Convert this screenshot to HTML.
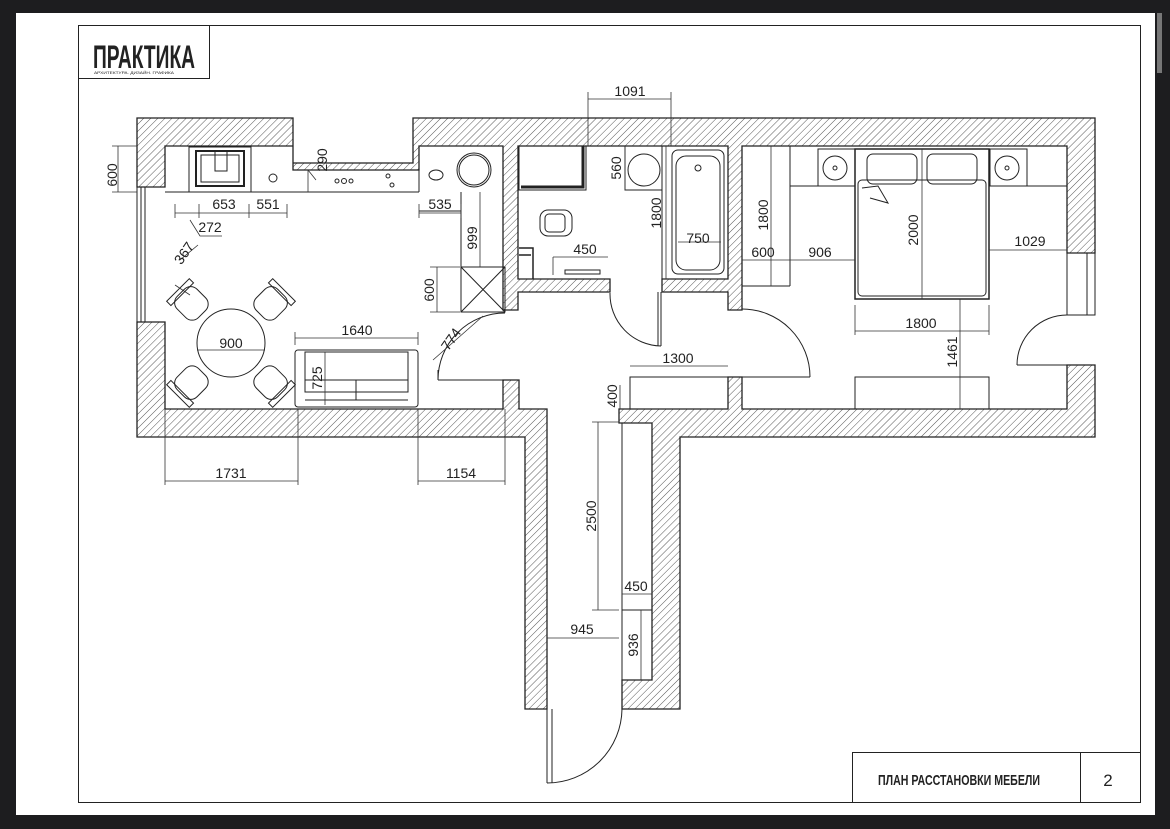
<!DOCTYPE html>
<html><head><meta charset="utf-8"><style>
html,body{margin:0;padding:0;background:#1d1d1f;width:1170px;height:829px;overflow:hidden}
svg{display:block}
text{font-family:"Liberation Sans Narrow","Liberation Sans",sans-serif;fill:#222}
</style></head><body>
<svg width="1170" height="829" viewBox="0 0 1170 829" xmlns="http://www.w3.org/2000/svg">
<defs>
<pattern id="h" patternUnits="userSpaceOnUse" width="5" height="5" patternTransform="rotate(45)">
<rect width="5" height="5" fill="#fff"/><line x1="0" y1="0" x2="0" y2="5" stroke="#444" stroke-width="0.9"/>
</pattern>
</defs>
<rect x="0" y="0" width="1170" height="829" fill="#1d1d1f"/>
<rect x="16" y="13" width="1139" height="802" fill="#fff"/>
<rect x="1157" y="13" width="5" height="60" fill="#777"/>
<rect x="78.5" y="25.5" width="1062" height="777" fill="none" stroke="#222" stroke-width="1"/>
<!-- logo -->
<rect x="78.5" y="25.5" width="131" height="53" fill="#fff" stroke="#222" stroke-width="1"/>
<text x="93" y="68" font-size="32" font-weight="bold" textLength="102" lengthAdjust="spacingAndGlyphs">ПРАКТИКА</text>
<text x="94" y="74" font-size="4" textLength="80" lengthAdjust="spacingAndGlyphs">АРХИТЕКТУРА. ДИЗАЙН. ГРАФИКА</text>

<g stroke="#222" stroke-width="1.3" fill="url(#h)" stroke-linejoin="miter">
<path d="M137,118H293V163H413V118H1095V253H1067V146H742V310H728V292H662V279H728V146H518V279H610V292H518V310H503V146H419V170H293V146H165V187H137Z"/>
<path d="M137,322H165V409H503V380H519V409H547V709H525V437H137Z"/>
<path d="M619,409H728V377H742V409H1067V365H1095V437H680V709H622V680H652V423H619Z"/>
</g>
<g fill="none" stroke="#222" stroke-width="1">
<path d="M137,187V322M145,187V322M141,187V322"/>
<path d="M1067,253H1095V315H1067ZM1087,253V315"/>
<rect x="519" y="146" width="67" height="44" stroke-width="1"/>
<path d="M583,146V187H521" stroke-width="3"/>
<path d="M519,248H533V279M519,255H531" stroke-width="1.5"/>
<path d="M438,380H505M438,380A67,67 0 0 1 505,313M438,380V370"/>
<path d="M661,292V346M658,292V346M610,293A52,52 0 0 0 661,346"/>
<path d="M742,377H810M810,377A68,68 0 0 0 742,309"/>
<path d="M1017,365H1067M1017,365A50,50 0 0 1 1067,315"/>
<path d="M547,709V783M552,709V783M547,783A75,75 0 0 0 622,709"/>
<path d="M165,192H419M419,146V192M461,192V267M419,211H461"/>
<rect x="189" y="147" width="62" height="45"/>
<rect x="196" y="151" width="48" height="35" stroke-width="2"/>
<rect x="201" y="155" width="38" height="27"/>
<rect x="215" y="151" width="12" height="20"/>
<circle cx="273" cy="178" r="4"/>
<circle cx="337" cy="181" r="2"/><circle cx="344" cy="181" r="2.5"/><circle cx="351" cy="181" r="2"/>
<circle cx="388" cy="176" r="2"/><circle cx="392" cy="185" r="2"/>
<ellipse cx="436" cy="175" rx="7" ry="5"/>
<circle cx="474" cy="170" r="17"/><circle cx="474" cy="170" r="15"/>
<rect x="461" y="267" width="44" height="45"/>
<path d="M461,267L505,312M505,267L461,312"/>
<circle cx="231" cy="343" r="34"/>
<g transform="rotate(-45 231 343)"><rect x="217" y="272" width="28" height="30" rx="9"/><rect x="215" y="268" width="32" height="6"/></g>
<g transform="rotate(45 231 343)"><rect x="217" y="272" width="28" height="30" rx="9"/><rect x="215" y="268" width="32" height="6"/></g>
<g transform="rotate(135 231 343)"><rect x="217" y="272" width="28" height="30" rx="9"/><rect x="215" y="268" width="32" height="6"/></g>
<g transform="rotate(225 231 343)"><rect x="217" y="272" width="28" height="30" rx="9"/><rect x="215" y="268" width="32" height="6"/></g>
<rect x="295" y="350" width="123" height="57" rx="3"/>
<rect x="305" y="352" width="103" height="40"/>
<path d="M305,380H408M356,380V400M305,400H408"/>
<rect x="540" y="210" width="32" height="26" rx="8"/>
<rect x="545" y="214" width="20" height="18" rx="4"/>
<path d="M565,270H600V274H565Z"/>
<path d="M625,146V190H662M662,146V279"/>
<circle cx="644" cy="170" r="16"/>
<rect x="672" y="150" width="52" height="124" rx="6"/>
<rect x="676" y="156" width="44" height="114" rx="10"/>
<circle cx="698" cy="168" r="3"/>
<path d="M790,146V286M742,286H790M790,186H855M989,186H1067"/>
<rect x="818" y="149" width="37" height="37"/><circle cx="835" cy="168" r="12"/><circle cx="835" cy="168" r="2"/>
<rect x="990" y="149" width="37" height="37"/><circle cx="1007" cy="168" r="12"/><circle cx="1007" cy="168" r="2"/>
<rect x="855" y="149" width="134" height="150" stroke-width="1.5"/>
<rect x="858" y="180" width="128" height="116" rx="4"/>
<rect x="867" y="154" width="50" height="30" rx="6"/><rect x="927" y="154" width="50" height="30" rx="6"/>
<path d="M862,188L878,186L888,203L870,198"/>
<rect x="855" y="377" width="134" height="32"/>
<rect x="630" y="377" width="98" height="32"/>
<path d="M622,423V680M622,610H652"/>
</g>

<g fill="none" stroke="#333" stroke-width="0.8">
<path d="M118,146V192M112,146H137M112,192H137"/>
<path d="M175,213H287M175,204V218M199,204V218M249,204V218M287,204V218"/>
<path d="M190,220L200,236H222"/>
<path d="M308,170V192M308,170L316,180"/>
<path d="M419,213H461M419,204V218M461,204V218"/>
<path d="M480,192V267"/>
<path d="M437,267V312M430,267H460M430,312H460"/>
<path d="M180,260L198,245M175,285L190,295"/>
<path d="M197,350H265"/>
<path d="M295,338H418M295,332V345M418,332V345"/>
<path d="M325,352V405"/>
<path d="M433,360L483,316"/>
<path d="M588,99H671M588,92V146M671,92V146"/>
<path d="M625,146V190"/>
<path d="M666,146V279"/>
<path d="M553,257H608M553,257V275"/>
<path d="M678,242H721"/>
<path d="M771,146V286"/>
<path d="M742,260H855"/>
<path d="M922,149V299"/>
<path d="M989,250H1067"/>
<path d="M855,331H989M855,305V335M989,305V335"/>
<path d="M960,299V409"/>
<path d="M630,366H728"/>
<path d="M620,385V409"/>
<path d="M598,422V610M592,422H619M592,610H619"/>
<path d="M622,594H652"/>
<path d="M547,638H619"/>
<path d="M641,610V680"/>
<path d="M165,409V485M298,409V485M418,409V485M505,409V485"/>
<path d="M165,481H298M418,481H505"/>
</g>

<g font-size="14">
<text transform="translate(117 175) rotate(-90)" text-anchor="middle">600</text>
<text x="224" y="209" text-anchor="middle">653</text>
<text x="268" y="209" text-anchor="middle">551</text>
<text x="210" y="232" text-anchor="middle">272</text>
<text transform="translate(327 160) rotate(-90)" text-anchor="middle">290</text>
<text x="440" y="209" text-anchor="middle">535</text>
<text transform="translate(477 238) rotate(-90)" text-anchor="middle">999</text>
<text transform="translate(434 290) rotate(-90)" text-anchor="middle">600</text>
<text transform="translate(188 256) rotate(-55)" text-anchor="middle">367</text>
<text x="231" y="348" text-anchor="middle">900</text>
<text x="357" y="335" text-anchor="middle">1640</text>
<text transform="translate(322 378) rotate(-90)" text-anchor="middle">725</text>
<text transform="translate(455 342) rotate(-55)" text-anchor="middle">774</text>
<text x="630" y="96" text-anchor="middle">1091</text>
<text transform="translate(621 168) rotate(-90)" text-anchor="middle">560</text>
<text transform="translate(661 213) rotate(-90)" text-anchor="middle">1800</text>
<text x="585" y="254" text-anchor="middle">450</text>
<text x="698" y="243" text-anchor="middle">750</text>
<text transform="translate(768 215) rotate(-90)" text-anchor="middle">1800</text>
<text x="763" y="257" text-anchor="middle">600</text>
<text x="820" y="257" text-anchor="middle">906</text>
<text transform="translate(918 230) rotate(-90)" text-anchor="middle">2000</text>
<text x="1030" y="246" text-anchor="middle">1029</text>
<text x="921" y="328" text-anchor="middle">1800</text>
<text transform="translate(957 352) rotate(-90)" text-anchor="middle">1461</text>
<text x="678" y="363" text-anchor="middle">1300</text>
<text transform="translate(617 396) rotate(-90)" text-anchor="middle">400</text>
<text x="231" y="478" text-anchor="middle">1731</text>
<text x="461" y="478" text-anchor="middle">1154</text>
<text transform="translate(596 516) rotate(-90)" text-anchor="middle">2500</text>
<text x="636" y="591" text-anchor="middle">450</text>
<text x="582" y="634" text-anchor="middle">945</text>
<text transform="translate(638 645) rotate(-90)" text-anchor="middle">936</text>
</g>

<rect x="852.5" y="752.5" width="288" height="50" fill="#fff" stroke="#222" stroke-width="1"/>
<line x1="1080.5" y1="752" x2="1080.5" y2="803" stroke="#222" stroke-width="1"/>
<text x="878" y="785" font-size="15" font-weight="bold" textLength="162" lengthAdjust="spacingAndGlyphs">ПЛАН РАССТАНОВКИ МЕБЕЛИ</text>
<text x="1108" y="786" font-size="17" text-anchor="middle">2</text>
</svg>
</body></html>
